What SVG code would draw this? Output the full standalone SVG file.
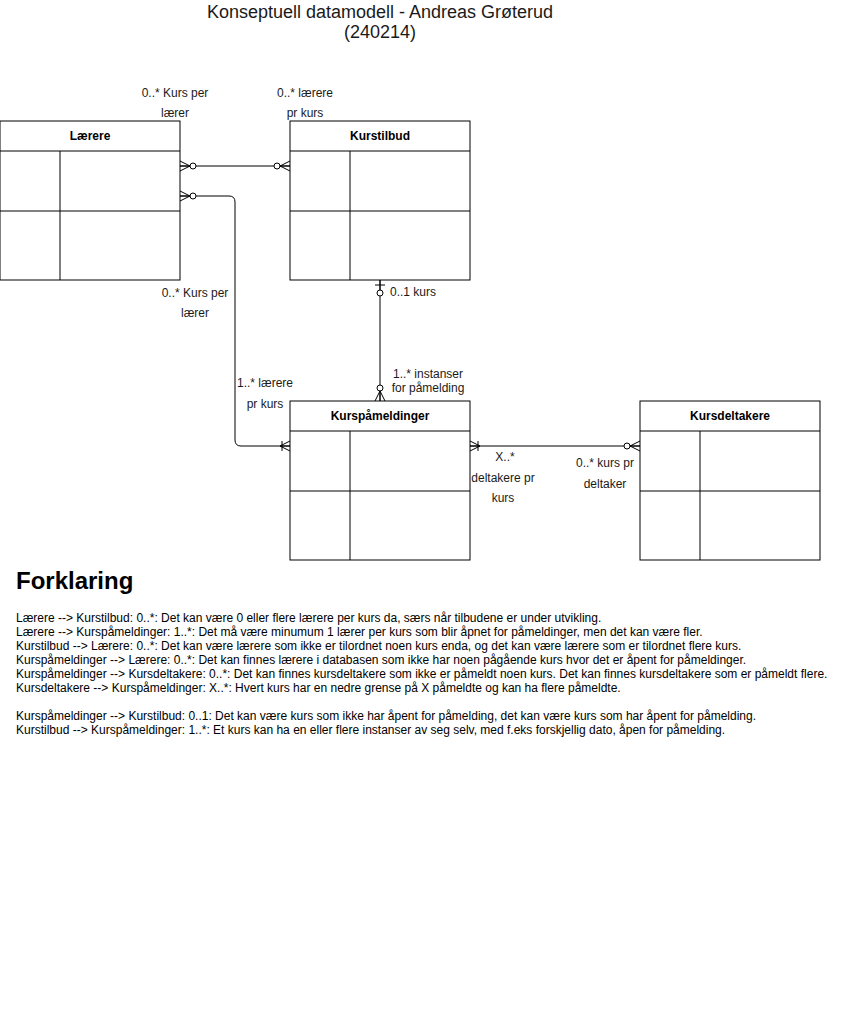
<svg xmlns="http://www.w3.org/2000/svg" xmlns:xlink="http://www.w3.org/1999/xlink" width="841" height="1012" viewBox="0 0 841 1012">
<style>
.box{fill:#fff;stroke:#000;stroke-width:1}
.ln{fill:none;stroke:#000;stroke-width:1}
.hd{font-family:"Liberation Sans",Arial,sans-serif;font-size:12px;font-weight:bold;text-anchor:middle;fill:#000}
.lb{font-family:"Liberation Sans",Arial,sans-serif;font-size:12px;fill:#1a1a1a}
.c{text-anchor:middle}
.tx{font-family:"Liberation Sans",Arial,sans-serif;font-size:12px;fill:#000}
.ti{font-family:"Liberation Sans",Arial,sans-serif;font-size:18px;fill:#1a1a1a;text-anchor:middle}
</style>
<defs>
<g id="zm"><path class="ln" d="M0,-5 L10,0 L0,5 M0,0 L10,0"/><circle cx="13" cy="0" r="3" fill="#fff" stroke="#000"/></g>
<g id="om"><path class="ln" d="M0,-5 L10,0 L0,5 M0,0 L10,0 M8,-5 L8,5"/></g>
<g id="zo"><path class="ln" d="M5,-5 L5,5 M0,0 L10,0"/><circle cx="13" cy="0" r="3" fill="#fff" stroke="#000"/></g>
</defs>
<rect width="841" height="1012" fill="#fff"/>
<g id="title">
<text class="ti" x="380" y="18">Konseptuell datamodell - Andreas Grøterud</text>
<text class="ti" x="380" y="38">(240214)</text>
</g>
<g id="connectors">
<path class="ln" d="M180,166 L290,166"/>
<path class="ln" d="M180,196 L229,196 Q235,196 235,202 L235,440 Q235,446 241,446 L290,446"/>
<path class="ln" d="M380,280 L380,401"/>
<path class="ln" d="M470,446 L640,446"/>
<use xlink:href="#zm" transform="translate(180,166)"/>
<use xlink:href="#zm" transform="translate(290,166) rotate(180)"/>
<use xlink:href="#zm" transform="translate(180,196)"/>
<use xlink:href="#om" transform="translate(290,446) rotate(180)"/>
<use xlink:href="#zo" transform="translate(380,280) rotate(90)"/>
<use xlink:href="#zm" transform="translate(380,401) rotate(-90)"/>
<use xlink:href="#om" transform="translate(470,446)"/>
<use xlink:href="#zm" transform="translate(640,446) rotate(180)"/>
<text class="lb c" x="175" y="97">0..* Kurs per</text>
<text class="lb c" x="175" y="117">lærer</text>
<text class="lb c" x="305" y="97">0..* lærere</text>
<text class="lb c" x="305" y="117">pr kurs</text>
<text class="lb c" x="195" y="297">0..* Kurs per</text>
<text class="lb c" x="195" y="317">lærer</text>
<text class="lb" x="390" y="296">0..1 kurs</text>
<text class="lb c" x="265" y="387">1..* lærere</text>
<text class="lb c" x="265" y="408">pr kurs</text>
<text class="lb c" x="428" y="378">1..* instanser</text>
<text class="lb c" x="428" y="392">for påmelding</text>
<text class="lb c" x="505" y="461">X..*</text>
<text class="lb c" x="503" y="482">deltakere pr</text>
<text class="lb c" x="503" y="502">kurs</text>
<text class="lb c" x="605" y="467">0..* kurs pr</text>
<text class="lb c" x="605" y="488">deltaker</text>
</g>
<g id="laerere">
<rect class="box" x="0" y="121" width="180" height="159"/>
<path class="ln" d="M0,151 L180,151 M0,211 L180,211 M60,151 L60,280"/>
<text class="hd" x="90" y="140">Lærere</text>
</g>
<g id="kurstilbud">
<rect class="box" x="290" y="121" width="180" height="159"/>
<path class="ln" d="M290,151 L470,151 M290,211 L470,211 M350,151 L350,280"/>
<text class="hd" x="380" y="140">Kurstilbud</text>
</g>
<g id="kurspameldinger">
<rect class="box" x="290" y="401" width="180" height="159"/>
<path class="ln" d="M290,431 L470,431 M290,491 L470,491 M350,431 L350,560"/>
<text class="hd" x="380" y="420">Kurspåmeldinger</text>
</g>
<g id="kursdeltakere">
<rect class="box" x="640" y="401" width="180" height="159"/>
<path class="ln" d="M640,431 L820,431 M640,491 L820,491 M700,431 L700,560"/>
<text class="hd" x="730" y="420">Kursdeltakere</text>
</g>
<g id="forklaring">
<text x="16" y="589" style="font-family:'Liberation Sans',Arial,sans-serif;font-size:24px;font-weight:bold;fill:#000">Forklaring</text>
<text class="tx" x="16" y="622">Lærere --&gt; Kurstilbud: 0..*: Det kan være 0 eller flere lærere per kurs da, særs når tilbudene er under utvikling.</text>
<text class="tx" x="16" y="636">Lærere --&gt; Kurspåmeldinger: 1..*: Det må være minumum 1 lærer per kurs som blir åpnet for påmeldinger, men det kan være fler.</text>
<text class="tx" x="16" y="650">Kurstilbud --&gt; Lærere: 0..*: Det kan være lærere som ikke er tilordnet noen kurs enda, og det kan være lærere som er tilordnet flere kurs.</text>
<text class="tx" x="16" y="664">Kurspåmeldinger --&gt; Lærere: 0..*: Det kan finnes lærere i databasen som ikke har noen pågående kurs hvor det er åpent for påmeldinger.</text>
<text class="tx" x="16" y="678">Kurspåmeldinger --&gt; Kursdeltakere: 0..*: Det kan finnes kursdeltakere som ikke er påmeldt noen kurs. Det kan finnes kursdeltakere som er påmeldt flere.</text>
<text class="tx" x="16" y="692">Kursdeltakere --&gt; Kurspåmeldinger: X..*: Hvert kurs har en nedre grense på X påmeldte og kan ha flere påmeldte.</text>
<text class="tx" x="16" y="720">Kurspåmeldinger --&gt; Kurstilbud: 0..1: Det kan være kurs som ikke har åpent for påmelding, det kan være kurs som har åpent for påmelding.</text>
<text class="tx" x="16" y="734">Kurstilbud --&gt; Kurspåmeldinger: 1..*: Et kurs kan ha en eller flere instanser av seg selv, med f.eks forskjellig dato, åpen for påmelding.</text>
</g>
</svg>
